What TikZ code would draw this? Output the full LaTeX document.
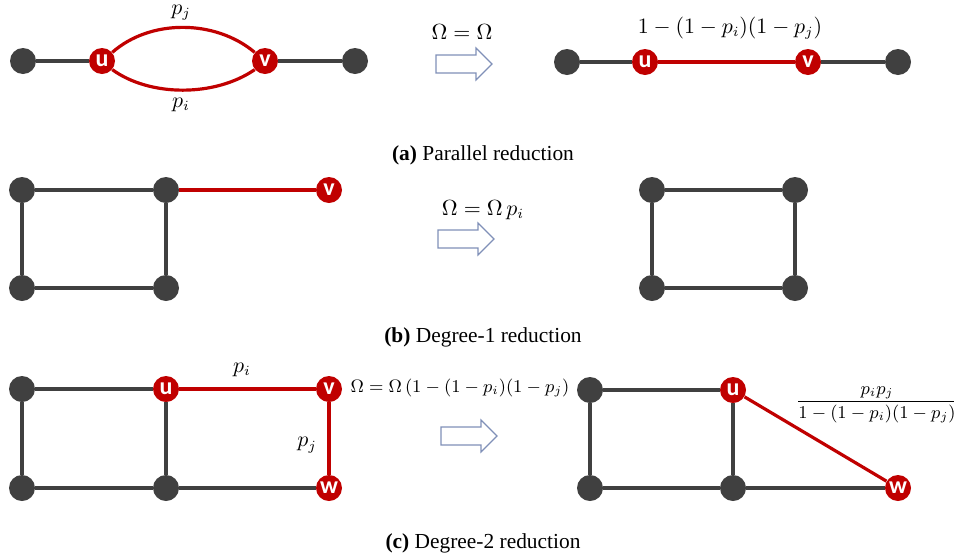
\documentclass[tikz,border=0pt]{standalone}
\usepackage{fontspec}
\usepackage{amsmath}
\setmainfont{Liberation Serif}
\newfontfamily\nodefont{Carlito}
\definecolor{dk}{HTML}{404040}
\definecolor{rd}{HTML}{C00000}
\definecolor{arr}{HTML}{8090B8}
\newcommand\harrow[2]{\draw[hollow] (#1,#2-9) -- ++(40,0) -- ++(0,-7) -- ++(16,16) -- ++(-16,16) -- ++(0,-7) -- ++(-40,0) -- cycle;}
\begin{document}
\begin{tikzpicture}[x=0.5pt,y=-0.5pt,
 dot/.style={circle,fill=dk,minimum size=13pt,inner sep=0pt},
 rdot/.style={circle,fill=rd,minimum size=13pt,inner sep=0pt,text=white,font=\nodefont\bfseries\fontsize{12}{12}\selectfont},
 gedge/.style={draw=dk,line width=1.7pt},
 redge/.style={draw=rd,line width=1.6pt},
 lbl/.style={font=\fontsize{10.5}{12}\selectfont, inner sep=1pt},
 captxt/.style={font=\fontsize{10.7}{13}\selectfont},
 hollow/.style={draw=arr,line width=0.6pt,fill=white}]
\useasboundingbox (0,0) rectangle (954,558);

% ---------- (a) ----------
\node[dot] (a1) at (23,61) {};
\node[rdot] (au) at (102,61) {u};
\node[rdot] (av) at (265,61) {v};
\node[dot] (a2) at (355,61) {};
\draw[gedge] (a1) -- (au);
\draw[gedge] (av) -- (a2);
\draw[redge] (au.40) .. controls (150,19) and (215,19) .. (av.140);
\draw[redge] (au.-40) .. controls (150,97) and (215,97) .. (av.-140);
\node[lbl] (apj) at (181,13) {$p_j$};
\node[lbl] (api) at (181,105) {$p_i$};
\node[lbl] (aom) at (462,32) {$\Omega=\Omega$};
\harrow{436}{64}
\node[dot] (b1) at (567,62) {};
\node[rdot] (bu) at (645,62) {u};
\node[rdot] (bv) at (808,62) {v};
\node[dot] (b2) at (898,62) {};
\draw[gedge] (b1) -- (bu);
\draw[gedge] (bv) -- (b2);
\draw[redge] (bu) -- (bv);
\node[lbl] (bl) at (730,28) {$1-(1-p_i)(1-p_j)$};
\node[captxt] (capa) at (483,155) {\textbf{(a)} Parallel reduction};

% ---------- (b) ----------
\node[dot] (c1) at (22,190) {};
\node[dot] (c2) at (166,190) {};
\node[dot] (c3) at (22,288) {};
\node[dot] (c4) at (166,288) {};
\node[rdot] (cv) at (329,190) {v};
\draw[gedge] (c1) -- (c2);
\draw[gedge] (c1) -- (c3);
\draw[gedge] (c2) -- (c4);
\draw[gedge] (c3) -- (c4);
\draw[redge] (c2) -- (cv);
\node[lbl] (com) at (483,210) {$\Omega=\Omega\,p_i$};
\harrow{438}{239}
\node[dot] (d1) at (652,190) {};
\node[dot] (d2) at (795,190) {};
\node[dot] (d3) at (652,288) {};
\node[dot] (d4) at (795,288) {};
\draw[gedge] (d1) -- (d2);
\draw[gedge] (d1) -- (d3);
\draw[gedge] (d2) -- (d4);
\draw[gedge] (d3) -- (d4);
\node[captxt] (capb) at (483,337) {\textbf{(b)} Degree-1 reduction};

% ---------- (c) ----------
\node[dot] (e1) at (22,389) {};
\node[rdot] (eu) at (166,389) {u};
\node[rdot] (ev) at (329,389) {v};
\node[dot] (e3) at (22,488) {};
\node[dot] (e4) at (166,488) {};
\node[rdot] (ew) at (329,488) {w};
\draw[gedge] (e1) -- (eu);
\draw[gedge] (e1) -- (e3);
\draw[gedge] (eu) -- (e4);
\draw[gedge] (e3) -- (e4);
\draw[gedge] (e4) -- (ew);
\draw[redge] (eu) -- (ev);
\draw[redge] (ev) -- (ew);
\node[lbl] (epi) at (242,370) {$p_i$};
\node[lbl] (epj) at (307,445) {$p_j$};
\node[lbl,font=\fontsize{8.6}{10}\selectfont] (eom) at (460,388) {$\Omega=\Omega\,(1-(1-p_i)(1-p_j)$};
\harrow{441}{436}
\node[dot] (f1) at (590,390) {};
\node[rdot] (fu) at (733,390) {u};
\node[dot] (f3) at (590,488) {};
\node[dot] (f4) at (733,488) {};
\node[rdot] (fw) at (898,488) {w};
\draw[gedge] (f1) -- (fu);
\draw[gedge] (f1) -- (f3);
\draw[gedge] (fu) -- (f4);
\draw[gedge] (f3) -- (f4);
\draw[gedge] (f4) -- (fw);
\draw[redge] (fu) -- (fw);
\node[lbl,font=\fontsize{9}{11}\selectfont] (ffr) at (877,405) {$\dfrac{p_ip_j}{1-(1-p_i)(1-p_j)}$};
\node[captxt] (capc) at (483,543) {\textbf{(c)} Degree-2 reduction};
\end{tikzpicture}
\end{document}
